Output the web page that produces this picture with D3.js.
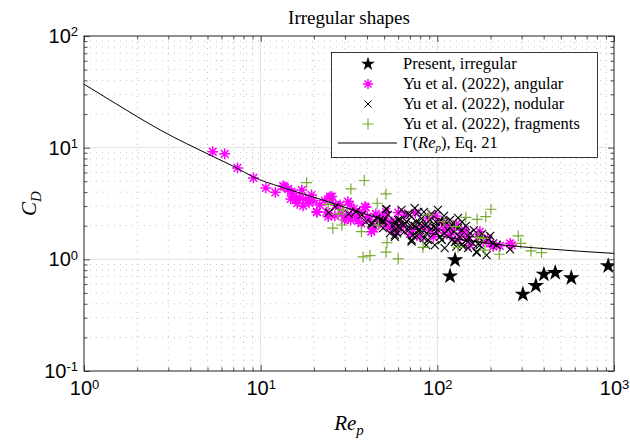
<!DOCTYPE html>
<html>
<head>
<meta charset="utf-8">
<script src="https://cdn.jsdelivr.net/npm/d3@7"></script>
<style>
  body { margin: 0; background: #fff; }
  .serif { font-family: "Liberation Serif", "DejaVu Serif", serif; }
  .sans { font-family: "Liberation Sans", "DejaVu Sans", sans-serif; }
</style>
</head>
<body>
<div id="chart"></div>
<script>
// Present, irregular
const presentRe = [126, 118, 305, 361, 401, 465, 573, 927];
const presentCD = [0.986, 0.708, 0.486, 0.580, 0.734, 0.758, 0.680, 0.871];

// Yu et al. (2022), angular
const angularRe = [5.35, 6.26, 7.39, 9.10, 10.7, 12.1, 13.6, 15.1, 14.8, 15.9, 16.1, 13.4, 16.7, 17.4, 18.0, 19.4, 19.8, 20.8, 23.6, 23.1,
  25.3, 24.7, 24.1, 31.2, 32.0, 30.5, 29.9, 32.3, 34.7, 37.2, 39.4, 40.2, 41.6, 43.8, 46.5, 49.3, 55.6, 58.8, 60.1, 51.2,
  50.5, 56.3, 49.0, 64.0, 73.0, 70.0, 83.0, 90.8, 106, 101, 112, 128, 118, 137, 149, 170, 182, 207, 199, 264,
  174, 143, 79.8, 95, 123, 14.9, 15.9, 20.8, 24.7, 32.6, 38.9, 42.3, 258, 65.6, 75, 88.5, 98, 110, 131, 153,
  193, 226, 55.3, 36.4, 28.2, 26.3, 14.3, 17.1, 18.8, 21.6, 26.6, 28.8, 33.7, 35.6, 44.9, 52.5];
const angularCD = [9.2, 8.8, 6.59, 5.36, 4.36, 3.98, 4.48, 3.90, 3.47, 3.46, 3.18, 4.54, 3.52, 3.01, 3.46, 3.77, 3.36, 2.64, 2.66, 3.36,
  3.65, 3.52, 2.41, 3.29, 3.07, 2.38, 2.25, 2.25, 2.38, 2.10, 2.92, 2.41, 2.25, 1.88, 2.19, 2.07, 1.88, 1.76, 2.62, 2.66,
  2.25, 2.10, 2.45, 1.99, 1.86, 1.69, 1.96, 1.83, 2.17, 1.83, 2.03, 2.07, 1.65, 1.71, 1.59, 1.59, 1.44, 1.30, 1.39, 1.34,
  1.77, 1.83, 1.59, 1.59, 1.83, 4.04, 3.52, 2.67, 3.64, 2.50, 2.96, 1.77, 1.39, 2.50, 2.60, 2.35, 2.45, 1.83, 1.49, 1.34,
  1.55, 1.32, 2.16, 2.66, 3.07, 2.45, 4.27, 4.17, 3.20, 3.07, 3.07, 2.55, 2.83, 2.21, 2.55, 1.99];

// Yu et al. (2022), nodular
const nodularRe = [24.3, 34.6, 42.9, 45.2, 49.3, 51.2, 56.3, 57.5, 59.3, 26.5, 31.5, 42.3, 47.3, 51.5, 49.3, 57.5, 67, 71.5, 79.8, 86.5,
  96.9, 110, 128, 167, 190, 207, 258, 49.3, 53.9, 61.4, 65.6, 68.5, 71.5, 76, 79.8, 85.1, 87, 90.8, 95, 103.5,
  115, 121, 134, 131, 146, 153, 167, 159, 174, 194, 72.8, 81.5, 103.5, 60, 57.5, 140, 110, 70, 78, 98,
  121, 138, 61.4, 52.5, 74.5, 88.5, 126, 149, 174, 217, 37.4, 39.4,
  62.7, 68.2, 74.5, 84, 92.5, 100.8, 109, 118, 131, 145, 161, 179, 199, 60, 64.8, 76.3, 84, 98, 106, 124,
  138, 170, 57.5, 88.5, 111, 71.8, 78, 98, 138, 153];
const nodularCD = [2.62, 2.67, 2.07, 2.33, 2.22, 2.81, 1.99, 1.83, 1.71, 2.95, 2.55, 2.10, 2.25, 2.81, 1.90, 1.65, 2.17, 1.44, 2.10, 1.34,
  1.34, 1.26, 1.30, 1.15, 1.09, 1.39, 1.23, 2.17, 1.72, 2.25, 2.10, 1.83, 1.49, 2.17, 1.83, 2.03, 1.72, 2.25, 1.96, 1.59,
  1.83, 1.49, 1.59, 1.90, 1.49, 1.72, 1.17, 1.39, 1.34, 1.51, 1.65, 2.33, 2.17, 1.96, 1.59, 1.30, 1.72, 2.50, 2.66, 1.91,
  2.03, 1.83, 1.91, 2.50, 1.99, 1.49, 1.43, 1.26, 1.55, 1.34, 2.50, 2.16,
  2.77, 2.55, 2.88, 2.66, 2.55, 2.77, 2.45, 2.25, 2.35, 1.99, 1.83, 1.69, 1.62, 2.25, 1.76, 1.62, 1.55, 1.76, 1.49, 1.76,
  1.37, 1.37, 2.16, 1.99, 2.16, 2.07, 1.83, 2.16, 2.16, 1.55];

// Yu et al. (2022), fragments
const fragmentsRe = [18.2, 38.6, 32.4, 51.2, 45.7, 24.1, 29.3, 25.6, 28.8, 37.2, 46.3, 51.9, 51.2, 38, 41.6, 60, 89.6, 109, 127, 145,
  168, 188, 201, 170, 83, 131, 186, 224, 287, 297, 339, 389, 27.5, 182];
const fragmentsCD = [4.86, 5.08, 4.27, 3.85, 3.18, 3.10, 2.77, 1.90, 2.03, 1.77, 2.03, 1.41, 1.16, 1.05, 1.08, 1.01, 2.50, 2.17, 1.96, 2.38,
  2.28, 2.41, 2.81, 1.57, 1.28, 1.28, 1.21, 1.11, 1.62, 1.39, 1.19, 1.15, 2.55, 1.54];

// Gamma(Re_p), Eq. 21
const gammaRe = [1, 1.5, 2.7, 5.4, 7.3, 9, 13, 22.5, 50, 100, 220, 420, 1000];
const gammaCD = [37, 25, 14.4, 8.3, 6.6, 5.5, 4.45, 3.4, 2.25, 1.65, 1.36, 1.24, 1.13];

const xDecades = [1, 10, 100, 1000];
const yDecades = [0.1, 1, 10, 100];

const legendLabels = ["Present, irregular", "Yu et al. (2022), angular", "Yu et al. (2022), nodular", "Yu et al. (2022), fragments"];

const W = 630, H = 442;
const margin = {top: 36, right: 16, bottom: 71, left: 84};
const green = "#77ac30", magenta = "#ff00ff";

const x = d3.scaleLog().domain([1, 1000]).range([margin.left, W - margin.right]);
const y = d3.scaleLog().domain([0.1, 100]).range([H - margin.bottom, margin.top]);

const minorOf = decs => decs.slice(0, -1).flatMap(d => d3.range(2, 10).map(k => d * k));
const xMinor = minorOf(xDecades);
const yMinor = minorOf(yDecades);

const svg = d3.select("#chart").append("svg")
  .attr("width", W).attr("height", H);

svg.append("defs").append("clipPath").attr("id", "clip")
  .append("rect")
  .attr("x", margin.left).attr("y", margin.top)
  .attr("width", W - margin.left - margin.right)
  .attr("height", H - margin.top - margin.bottom);

// grid
const grid = svg.append("g");
grid.selectAll(".xminor").data(xMinor).join("line")
  .attr("x1", d => x(d)).attr("x2", d => x(d))
  .attr("y1", margin.top).attr("y2", H - margin.bottom)
  .attr("stroke", "#b8b8b8").attr("stroke-width", 0.8).attr("stroke-dasharray", "1,5");
grid.selectAll(".yminor").data(yMinor).join("line")
  .attr("y1", d => y(d)).attr("y2", d => y(d))
  .attr("x1", margin.left).attr("x2", W - margin.right)
  .attr("stroke", "#b8b8b8").attr("stroke-width", 0.8).attr("stroke-dasharray", "1,5");
grid.selectAll(".xmajor").data(xDecades.slice(1, -1)).join("line")
  .attr("x1", d => x(d)).attr("x2", d => x(d))
  .attr("y1", margin.top).attr("y2", H - margin.bottom)
  .attr("stroke", "#e2e2e2").attr("stroke-width", 1);
grid.selectAll(".ymajor").data(yDecades.slice(1, -1)).join("line")
  .attr("y1", d => y(d)).attr("y2", d => y(d))
  .attr("x1", margin.left).attr("x2", W - margin.right)
  .attr("stroke", "#e2e2e2").attr("stroke-width", 1);

// markers
function starPath() { return d3.symbol(d3.symbolStar, 85)(); }
function asterisk(r) {
  const a = r * Math.SQRT1_2;
  return `M${-r},0L${r},0M0,${-r}L0,${r}M${-a},${-a}L${a},${a}M${-a},${a}L${a},${-a}`;
}
function cross(r) { return `M${-r},${-r}L${r},${r}M${-r},${r}L${r},${-r}`; }
function plus(r) { return `M${-r},0L${r},0M0,${-r}L0,${r}`; }

const plot = svg.append("g").attr("clip-path", "url(#clip)");

const pairs = (a, b) => a.map((v, i) => [v, b[i]]);

plot.append("g").selectAll("path").data(pairs(presentRe, presentCD)).join("path")
  .attr("transform", d => `translate(${x(d[0])},${y(d[1])})`)
  .attr("d", starPath()).attr("fill", "#000");

plot.append("g").selectAll("path").data(pairs(angularRe, angularCD)).join("path")
  .attr("transform", d => `translate(${x(d[0])},${y(d[1])})`)
  .attr("d", asterisk(5.4)).attr("fill", "none").attr("stroke", magenta).attr("stroke-width", 1.5);

plot.append("g").selectAll("path").data(pairs(nodularRe, nodularCD)).join("path")
  .attr("transform", d => `translate(${x(d[0])},${y(d[1])})`)
  .attr("d", cross(4)).attr("fill", "none").attr("stroke", "#000").attr("stroke-width", 1.1);

plot.append("g").selectAll("path").data(pairs(fragmentsRe, fragmentsCD)).join("path")
  .attr("transform", d => `translate(${x(d[0])},${y(d[1])})`)
  .attr("d", plus(5.5)).attr("fill", "none").attr("stroke", green).attr("stroke-width", 1.2);

const line = d3.line()
  .x(d => x(d[0])).y(d => y(d[1]))
  .curve(d3.curveMonotoneX);
plot.append("path").datum(pairs(gammaRe, gammaCD))
  .attr("d", line).attr("fill", "none").attr("stroke", "#000").attr("stroke-width", 1);

// axes: ticks inside on all four sides
function supLabels(sel) {
  sel.selectAll(".tick text").each(function(d) {
    const t = d3.select(this);
    t.text("10");
    t.append("tspan").attr("dy", "-0.5em").style("font-size", "13px").text(Math.round(Math.log10(d)));
  });
}

svg.append("g").attr("transform", `translate(0,${H - margin.bottom})`)
  .call(d3.axisBottom(x).tickValues(xDecades).tickSize(-6).tickPadding(10))
  .call(supLabels);
svg.append("g").attr("transform", `translate(${margin.left},0)`)
  .call(d3.axisLeft(y).tickValues(yDecades).tickSize(-6).tickPadding(6))
  .call(supLabels);
svg.append("g").attr("transform", `translate(0,${H - margin.bottom})`)
  .call(d3.axisBottom(x).tickValues(xMinor).tickSize(-3.5).tickFormat(""));
svg.append("g").attr("transform", `translate(${margin.left},0)`)
  .call(d3.axisLeft(y).tickValues(yMinor).tickSize(-3.5).tickFormat(""));
svg.append("g").attr("transform", `translate(0,${margin.top})`)
  .call(d3.axisTop(x).tickValues(xDecades).tickSize(-6).tickFormat(""));
svg.append("g").attr("transform", `translate(0,${margin.top})`)
  .call(d3.axisTop(x).tickValues(xMinor).tickSize(-3.5).tickFormat(""));
svg.append("g").attr("transform", `translate(${W - margin.right},0)`)
  .call(d3.axisRight(y).tickValues(yDecades).tickSize(-6).tickFormat(""));
svg.append("g").attr("transform", `translate(${W - margin.right},0)`)
  .call(d3.axisRight(y).tickValues(yMinor).tickSize(-3.5).tickFormat(""));

svg.selectAll(".domain").remove();
svg.selectAll(".tick line").attr("stroke", "#222").attr("stroke-width", 0.8);
svg.selectAll(".tick text").attr("class", "sans").attr("font-family", null)
  .style("font-size", "20px").attr("fill", "#000");

svg.append("rect")
  .attr("x", margin.left).attr("y", margin.top)
  .attr("width", W - margin.left - margin.right)
  .attr("height", H - margin.top - margin.bottom)
  .attr("fill", "none").attr("stroke", "#222").attr("stroke-width", 1);

// title and axis labels
svg.append("text").attr("class", "serif")
  .attr("x", (margin.left + W - margin.right) / 2).attr("y", 24)
  .attr("text-anchor", "middle").style("font-size", "19px")
  .text("Irregular shapes");

const xl = svg.append("text").attr("class", "serif")
  .attr("x", (margin.left + W - margin.right) / 2).attr("y", 430)
  .attr("text-anchor", "middle").style("font-size", "21px").style("font-style", "italic");
xl.append("tspan").text("Re");
xl.append("tspan").attr("dy", 5).style("font-size", "15px").text("p");

const yl = svg.append("text").attr("class", "serif")
  .attr("transform", `translate(36,${(margin.top + H - margin.bottom) / 2}) rotate(-90)`)
  .attr("text-anchor", "middle").style("font-size", "21px").style("font-style", "italic");
yl.append("tspan").text("C");
yl.append("tspan").attr("dy", 5).style("font-size", "15px").text("D");

// legend
const lg = svg.append("g");
lg.append("rect")
  .attr("x", 331.5).attr("y", 52.5).attr("width", 266).attr("height", 105)
  .attr("fill", "#fff").attr("stroke", "#222").attr("stroke-width", 0.9);
const rowY = [64, 84, 104, 124, 143];
const mx = 368, tx = 403;
lg.append("path").attr("transform", `translate(${mx},${rowY[0]})`).attr("d", d3.symbol(d3.symbolStar, 60)()).attr("fill", "#000");
lg.append("path").attr("transform", `translate(${mx},${rowY[1]})`).attr("d", asterisk(5))
  .attr("fill", "none").attr("stroke", magenta).attr("stroke-width", 1.4);
lg.append("path").attr("transform", `translate(${mx},${rowY[2]})`).attr("d", cross(3.5))
  .attr("fill", "none").attr("stroke", "#000").attr("stroke-width", 1);
lg.append("path").attr("transform", `translate(${mx},${rowY[3]})`).attr("d", plus(5.5))
  .attr("fill", "none").attr("stroke", green).attr("stroke-width", 1.2);
lg.append("line").attr("x1", 338).attr("x2", 397).attr("y1", rowY[4]).attr("y2", rowY[4])
  .attr("stroke", "#000").attr("stroke-width", 1);

lg.selectAll(".lt").data(legendLabels).join("text").attr("class", "serif")
  .attr("x", tx).attr("y", (d, i) => rowY[i] + 5)
  .style("font-size", "16.5px")
  .text(d => d);

const gl = lg.append("text").attr("class", "serif").attr("x", tx).attr("y", rowY[4] + 5)
  .style("font-size", "16.5px");
gl.append("tspan").text("\u0393(");
gl.append("tspan").style("font-style", "italic").text("Re");
gl.append("tspan").style("font-style", "italic").style("font-size", "11px").attr("dy", 3).text("p");
gl.append("tspan").attr("dy", -3).text("), Eq. 21");
</script>
</body>
</html>
